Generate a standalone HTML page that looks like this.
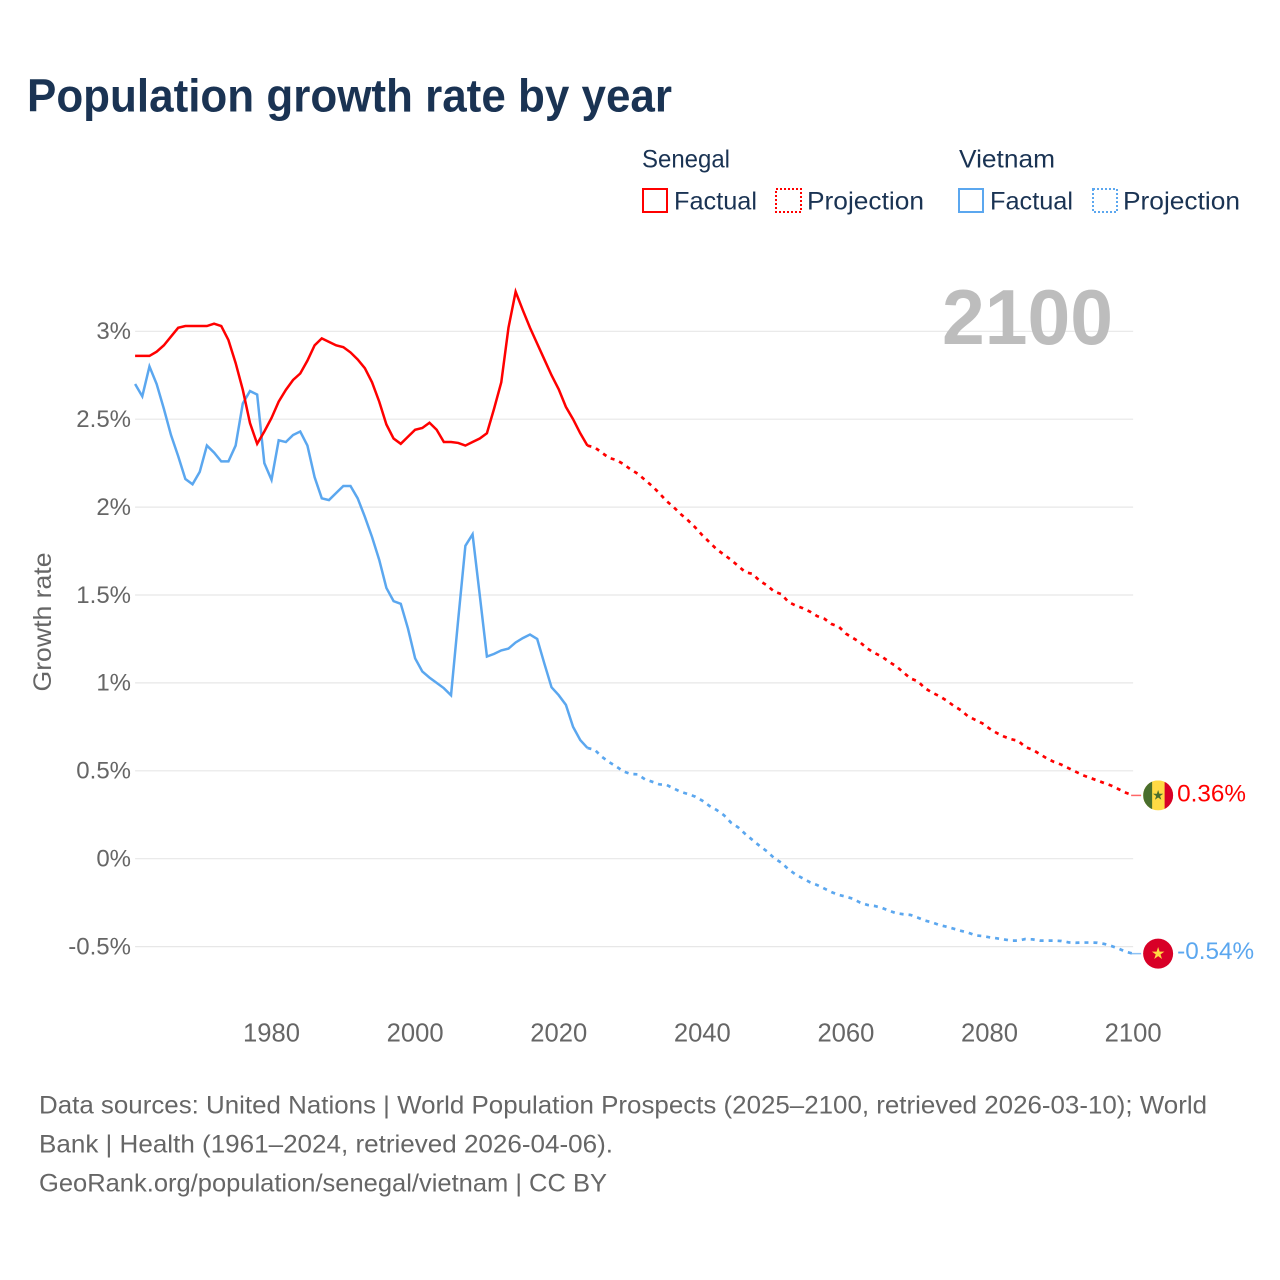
<!DOCTYPE html>
<html lang="en">
<head>
<meta charset="utf-8">
<title>Population growth rate by year</title>
<style>
html,body{margin:0;padding:0;background:#fff;}
svg{display:block;}
text{font-family:"Liberation Sans",sans-serif;}
</style>
</head>
<body>
<svg id="chart" xmlns="http://www.w3.org/2000/svg" width="1280" height="1280" viewBox="0 0 1280 1280">
  <rect width="1280" height="1280" fill="#ffffff"/>
  <text x="27" y="111.5" font-size="46" font-weight="700" fill="#1a3353" textLength="645" lengthAdjust="spacingAndGlyphs">Population growth rate by year</text>

  <g font-size="25" fill="#1a3353">
    <text x="642" y="167.5" textLength="88" lengthAdjust="spacingAndGlyphs">Senegal</text>
    <text x="959" y="167.5" textLength="96" lengthAdjust="spacingAndGlyphs">Vietnam</text>
    <g>
      <rect x="643" y="189" width="24" height="23" fill="none" stroke="#ff0000" stroke-width="2"/>
      <text x="674" y="209.5" textLength="83" lengthAdjust="spacingAndGlyphs">Factual</text>
    </g>
    <g>
      <rect x="776" y="189" width="25" height="23" fill="none" stroke="#ff0000" stroke-width="2" stroke-dasharray="2 2"/>
      <text x="807" y="209.5" textLength="117" lengthAdjust="spacingAndGlyphs">Projection</text>
    </g>
    <g>
      <rect x="959" y="189" width="24" height="23" fill="none" stroke="#5ba7ef" stroke-width="2"/>
      <text x="990" y="209.5" textLength="83" lengthAdjust="spacingAndGlyphs">Factual</text>
    </g>
    <g>
      <rect x="1093" y="189" width="24" height="23" fill="none" stroke="#5ba7ef" stroke-width="2" stroke-dasharray="2 2"/>
      <text x="1123" y="209.5" textLength="117" lengthAdjust="spacingAndGlyphs">Projection</text>
    </g>
  </g>

  <text transform="translate(51,622) rotate(-90)" text-anchor="middle" font-size="25" fill="#666666" textLength="139" lengthAdjust="spacingAndGlyphs">Growth rate</text>

  <g id="grid"></g>
  <g id="y-ticks"></g>
  <g id="x-ticks"></g>

  <text x="942" y="344" font-size="78" font-weight="700" fill="#bdbdbd" textLength="171" lengthAdjust="spacingAndGlyphs">2100</text>

  <g id="series"></g>

  <defs>
    <clipPath id="flag-clip"><circle cx="0" cy="0" r="15"/></clipPath>
  </defs>
  <g id="flag-senegal">
    <g clip-path="url(#flag-clip)">
      <rect x="-15" y="-15" width="30" height="30" fill="#ffda44"/>
      <rect x="-15" y="-15" width="9" height="30" fill="#496e2d"/>
      <rect x="6.5" y="-15" width="9" height="30" fill="#d80027"/>
    </g>
    <polygon transform="scale(5.4)" fill="#496e2d" points="0,-1 .225,-.309 .951,-.309 .363,.118 .588,.809 0,.382 -.588,.809 -.363,.118 -.951,-.309 -.225,-.309"/>
  </g>
  <g id="flag-vietnam">
    <circle r="15" fill="#d80027"/>
    <polygon transform="scale(6.6)" fill="#ffda44" points="0,-1 .225,-.309 .951,-.309 .363,.118 .588,.809 0,.382 -.588,.809 -.363,.118 -.951,-.309 -.225,-.309"/>
  </g>
  <text id="end-senegal" font-size="24.3" fill="#ff0000"></text>
  <text id="end-vietnam" font-size="24.3" fill="#5ba7ef"></text>

  <g font-size="25" fill="#666666">
    <text x="39" y="1113.5" textLength="1168" lengthAdjust="spacingAndGlyphs">Data sources: United Nations | World Population Prospects (2025–2100, retrieved 2026-03-10); World</text>
    <text x="39" y="1152.5" textLength="574" lengthAdjust="spacingAndGlyphs">Bank | Health (1961–2024, retrieved 2026-04-06).</text>
    <text x="39" y="1191.5" textLength="568" lengthAdjust="spacingAndGlyphs">GeoRank.org/population/senegal/vietnam | CC BY</text>
  </g>
</svg>

<script>
const factualStartYear = 1961;
const projectionStartYear = 2024;
const yTickValues = [3, 2.5, 2, 1.5, 1, 0.5, 0, -0.5];
const xTickValues = [1980, 2000, 2020, 2040, 2060, 2080, 2100];

const senegalFactual = [2.86,2.86,2.86,2.884,2.92,2.97,3.02,3.03,3.03,3.03,3.03,3.043,3.03,2.95,2.82,2.667,2.478,2.36,2.43,2.507,2.6,2.667,2.723,2.76,2.833,2.92,2.96,2.94,2.92,2.91,2.88,2.84,2.79,2.71,2.6,2.47,2.39,2.36,2.40,2.44,2.45,2.48,2.44,2.37,2.37,2.365,2.35,2.37,2.39,2.42,2.56,2.71,3.02,3.225,3.12,3.02,2.93,2.84,2.75,2.67,2.57,2.50,2.42,2.35];
const senegalProjection = [2.35,2.34,2.31,2.28,2.268,2.245,2.215,2.19,2.155,2.12,2.08,2.035,2.00,1.96,1.925,1.885,1.84,1.80,1.76,1.73,1.70,1.665,1.63,1.62,1.58,1.555,1.52,1.505,1.46,1.44,1.425,1.405,1.38,1.365,1.335,1.32,1.28,1.255,1.23,1.195,1.17,1.15,1.12,1.095,1.06,1.025,1.01,0.97,0.945,0.925,0.90,0.87,0.845,0.81,0.79,0.77,0.74,0.715,0.695,0.68,0.67,0.635,0.62,0.595,0.57,0.55,0.535,0.515,0.495,0.475,0.46,0.445,0.43,0.415,0.395,0.375,0.36];
const vietnamFactual = [2.70,2.63,2.80,2.70,2.56,2.41,2.29,2.16,2.13,2.2,2.35,2.31,2.26,2.26,2.35,2.59,2.66,2.64,2.25,2.155,2.38,2.37,2.41,2.43,2.35,2.17,2.05,2.04,2.08,2.12,2.12,2.05,1.945,1.83,1.70,1.54,1.465,1.45,1.31,1.14,1.065,1.03,1.00,0.97,0.93,1.36,1.78,1.845,1.50,1.15,1.165,1.185,1.195,1.23,1.255,1.275,1.25,1.11,0.975,0.93,0.875,0.75,0.675,0.63];
const vietnamProjection = [0.63,0.62,0.58,0.55,0.525,0.497,0.482,0.48,0.452,0.438,0.423,0.42,0.40,0.38,0.368,0.353,0.33,0.30,0.277,0.248,0.205,0.178,0.14,0.106,0.072,0.042,0.004,-0.023,-0.06,-0.09,-0.112,-0.134,-0.15,-0.17,-0.19,-0.206,-0.216,-0.228,-0.25,-0.263,-0.269,-0.279,-0.296,-0.31,-0.316,-0.32,-0.335,-0.352,-0.362,-0.377,-0.387,-0.398,-0.41,-0.42,-0.436,-0.44,-0.447,-0.453,-0.459,-0.466,-0.466,-0.457,-0.459,-0.466,-0.466,-0.466,-0.468,-0.476,-0.478,-0.477,-0.477,-0.478,-0.485,-0.497,-0.512,-0.53,-0.54];

const NS = 'http://www.w3.org/2000/svg';
function xScale(year) { return 135.1 + (year - 1961) * 7.18; }
function yScale(value) { return 858.7 - value * 175.8; }

function linePoints(values, startYear) {
  return values.map(function (v, i) {
    return xScale(startYear + i).toFixed(2) + ',' + yScale(v).toFixed(2);
  }).join(' ');
}

const gridGroup = document.getElementById('grid');
const yTickGroup = document.getElementById('y-ticks');
yTickValues.forEach(function (v) {
  const line = document.createElementNS(NS, 'line');
  
  
  line.setAttribute('x1', xScale(1961));
  line.setAttribute('x2', xScale(2100));
  line.setAttribute('y1', yScale(v));
  line.setAttribute('y2', yScale(v));
  line.setAttribute('stroke', '#e7e7e7');
  line.setAttribute('stroke-width', '1.2');
  gridGroup.appendChild(line);

  const label = document.createElementNS(NS, 'text');
  
  
  label.setAttribute('x', 131);
  label.setAttribute('y', yScale(v) + 7.8);
  label.setAttribute('text-anchor', 'end');
  label.setAttribute('font-size', '24');
  label.setAttribute('fill', '#666666');
  label.textContent = v + '%';
  yTickGroup.appendChild(label);
});

const xTickGroup = document.getElementById('x-ticks');
xTickValues.forEach(function (year) {
  const label = document.createElementNS(NS, 'text');
  
  
  label.setAttribute('x', xScale(year));
  label.setAttribute('y', 1041.3);
  label.setAttribute('text-anchor', 'middle');
  label.setAttribute('font-size', '25.6');
  label.setAttribute('fill', '#666666');
  label.textContent = year;
  xTickGroup.appendChild(label);
});

const seriesGroup = document.getElementById('series');

const vietnamFactualLine = document.createElementNS(NS, 'polyline');


vietnamFactualLine.setAttribute('points', linePoints(vietnamFactual, factualStartYear));
vietnamFactualLine.setAttribute('fill', 'none');
vietnamFactualLine.setAttribute('stroke', '#5ba7ef');
vietnamFactualLine.setAttribute('stroke-width', '2.5');
seriesGroup.appendChild(vietnamFactualLine);

const vietnamProjectionLine = document.createElementNS(NS, 'polyline');


vietnamProjectionLine.setAttribute('points', linePoints(vietnamProjection, projectionStartYear));
vietnamProjectionLine.setAttribute('fill', 'none');
vietnamProjectionLine.setAttribute('stroke', '#5ba7ef');
vietnamProjectionLine.setAttribute('stroke-width', '2.7');
vietnamProjectionLine.setAttribute('stroke-dasharray', '4 5');
seriesGroup.appendChild(vietnamProjectionLine);

const senegalFactualLine = document.createElementNS(NS, 'polyline');


senegalFactualLine.setAttribute('points', linePoints(senegalFactual, factualStartYear));
senegalFactualLine.setAttribute('fill', 'none');
senegalFactualLine.setAttribute('stroke', '#ff0000');
senegalFactualLine.setAttribute('stroke-width', '2.5');
seriesGroup.appendChild(senegalFactualLine);

const senegalProjectionLine = document.createElementNS(NS, 'polyline');


senegalProjectionLine.setAttribute('points', linePoints(senegalProjection, projectionStartYear));
senegalProjectionLine.setAttribute('fill', 'none');
senegalProjectionLine.setAttribute('stroke', '#ff0000');
senegalProjectionLine.setAttribute('stroke-width', '2.7');
senegalProjectionLine.setAttribute('stroke-dasharray', '4 5');
seriesGroup.appendChild(senegalProjectionLine);

const endYear = projectionStartYear + senegalProjection.length - 1;
const senegalEnd = senegalProjection[senegalProjection.length - 1];
const vietnamEnd = vietnamProjection[vietnamProjection.length - 1];

const senegalConnector = document.createElementNS(NS, 'line');


senegalConnector.setAttribute('x1', xScale(endYear) - 2);
senegalConnector.setAttribute('x2', xScale(endYear) + 8);
senegalConnector.setAttribute('y1', yScale(senegalEnd));
senegalConnector.setAttribute('y2', yScale(senegalEnd));
senegalConnector.setAttribute('stroke', '#ff0000');
senegalConnector.setAttribute('stroke-opacity', '0.6');
senegalConnector.setAttribute('stroke-width', '1.5');
seriesGroup.appendChild(senegalConnector);

const vietnamConnector = document.createElementNS(NS, 'line');


vietnamConnector.setAttribute('x1', xScale(endYear) - 2);
vietnamConnector.setAttribute('x2', xScale(endYear) + 8);
vietnamConnector.setAttribute('y1', yScale(vietnamEnd));
vietnamConnector.setAttribute('y2', yScale(vietnamEnd));
vietnamConnector.setAttribute('stroke', '#5ba7ef');
vietnamConnector.setAttribute('stroke-opacity', '0.7');
vietnamConnector.setAttribute('stroke-width', '1.5');
seriesGroup.appendChild(vietnamConnector);

document.getElementById('flag-senegal').setAttribute('transform', 'translate(' + (xScale(endYear) + 25) + ',' + yScale(senegalEnd) + ')');
document.getElementById('flag-vietnam').setAttribute('transform', 'translate(' + (xScale(endYear) + 25) + ',' + yScale(vietnamEnd) + ')');

const senegalLabel = document.getElementById('end-senegal');
senegalLabel.setAttribute('x', xScale(endYear) + 44);
senegalLabel.setAttribute('y', yScale(senegalEnd) + 6);
senegalLabel.textContent = senegalEnd.toFixed(2) + '%';

const vietnamLabel = document.getElementById('end-vietnam');
vietnamLabel.setAttribute('x', xScale(endYear) + 44);
vietnamLabel.setAttribute('y', yScale(vietnamEnd) + 5.5);
vietnamLabel.textContent = vietnamEnd.toFixed(2) + '%';
</script>
</body>
</html>
